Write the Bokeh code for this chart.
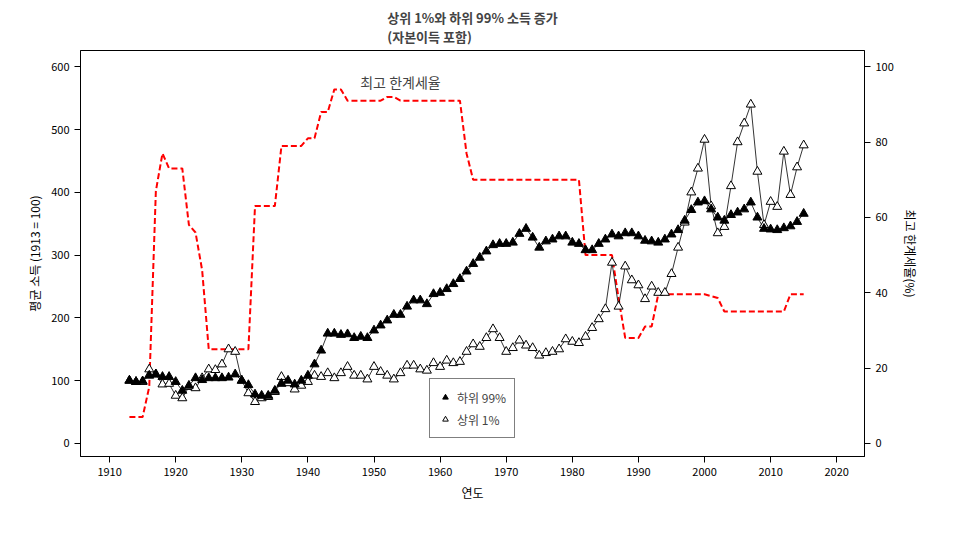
from bokeh.plotting import figure
from bokeh.models import Range1d, LinearAxis, Legend, LegendItem, FixedTicker, Label
from bokeh.embed import file_html
from bokeh.resources import INLINE

years = list(range(1913, 2016))

bottom99 = [100, 98, 99, 108, 110, 106, 106, 98, 84, 92, 104, 101, 104, 104, 104, 105, 110, 100, 93, 78,
            76, 76, 84, 95, 100, 94, 100, 108, 126, 148, 175, 175, 173, 174, 168, 170, 168, 180, 188, 196,
            205, 205, 218, 228, 228, 222, 238, 240, 246, 254, 262, 274, 286, 296, 306, 316, 318, 318, 320, 334,
            342, 328, 312, 322, 325, 330, 330, 320, 318, 308, 308, 318, 325, 333, 330, 335, 335, 330, 323, 322,
            320, 325, 333, 340, 355, 372, 384, 386, 373, 360, 355, 364, 368, 373, 384, 360, 342, 341, 340, 343,
            346, 353, 366]

top1 = [100, 98, 98, 118, 110, 94, 95, 76, 72, 90, 88, 104, 118, 117, 126, 150, 146, 100, 80, 66,
        72, 74, 82, 106, 96, 86, 92, 98, 108, 106, 112, 104, 112, 122, 108, 108, 102, 122, 114, 108,
        102, 112, 124, 124, 118, 116, 128, 122, 132, 128, 130, 146, 158, 154, 168, 182, 168, 146, 152, 164,
        156, 152, 140, 144, 146, 150, 166, 162, 160, 170, 184, 198, 214, 288, 218, 282, 260, 252, 230, 250,
        240, 240, 270, 312, 352, 400, 438, 484, 378, 335, 345, 410, 480, 510, 540, 433, 348, 385, 377, 465,
        396, 440, 475]

top_rate = [7, 7, 7, 15, 67, 77, 73, 73, 73, 58, 56, 46, 25, 25, 25, 25, 25, 25, 25, 63,
            63, 63, 63, 79, 79, 79, 79, 81, 81, 88, 88, 94, 94, 91, 91, 91, 91, 91, 91, 92,
            92, 91, 91, 91, 91, 91, 91, 91, 91, 91, 91, 77, 70, 70, 70, 70, 70, 70, 70, 70,
            70, 70, 70, 70, 70, 70, 70, 70, 70, 50, 50, 50, 50, 50, 38.5, 28, 28, 28, 31, 31,
            39.6, 39.6, 39.6, 39.6, 39.6, 39.6, 39.6, 39.6, 39.1, 38.6, 35, 35, 35, 35, 35, 35, 35, 35, 35, 35,
            39.6, 39.6, 39.6]

FONT = "Noto Sans CJK KR"

p = figure(frame_width=784, frame_height=406, output_backend="svg", toolbar_location=None,
           x_range=Range1d(1905.6, 2024.2), y_range=Range1d(-21, 626),
           min_border_left=80, min_border_right=72, min_border_top=50, min_border_bottom=60)
p.title.text = "상위 1%와 하위 99% 소득 증가\n(자본이득 포함)"
p.title.align = "center"
p.title.text_font = FONT
p.title.text_font_size = "13px"
p.xgrid.visible = False
p.ygrid.visible = False
p.outline_line_color = "black"

p.extra_y_ranges = {"rate": Range1d(-3.5, 104.33)}
p.add_layout(LinearAxis(y_range_name="rate", axis_label="최고 한계세율(%)",
                        ticker=FixedTicker(ticks=[0, 20, 40, 60, 80, 100])), "right")

p.xaxis.ticker = FixedTicker(ticks=list(range(1910, 2030, 10)))
p.yaxis[0].ticker = FixedTicker(ticks=[0, 100, 200, 300, 400, 500, 600])
p.xaxis.axis_label = "연도"
p.yaxis[0].axis_label = "평균 소득 (1913 = 100)"
for ax in p.axis:
    ax.axis_label_text_font = FONT
    ax.axis_label_text_font_style = "normal"
    ax.axis_label_text_font_size = "12px"
    ax.axis_label_text_color = "black"
    ax.major_label_text_font = FONT
    ax.major_label_text_font_size = "11px"
    ax.major_label_text_color = "black"
    ax.minor_tick_line_color = None
    ax.major_tick_in = 0
    ax.major_tick_out = 6
    ax.axis_line_color = "black"
p.yaxis[1].axis_label_orientation = "vertical"

rate6 = [r * 6 for r in top_rate]
p.line(years, rate6, color="red", line_width=2, line_dash="6 3")

p.line(years, top1, color="black", line_width=0.8)
p.line(years, bottom99, color="black", line_width=0.8)
r_top = p.scatter(years, top1, marker="triangle", size=9, fill_color="white", line_color="black")
r_bot = p.scatter(years, bottom99, marker="triangle", size=9, fill_color="black", line_color="black")

p.add_layout(Label(x=1954, y=560, text="최고 한계세율", text_font=FONT, text_font_size="14px",
                   text_align="center"))

leg = Legend(items=[LegendItem(label="하위 99%", renderers=[r_bot]),
                    LegendItem(label="상위 1%", renderers=[r_top])],
             location=(349, 18), border_line_color="black", label_text_font=FONT,
             label_text_font_size="12px", glyph_width=14, padding=8, spacing=2)
p.add_layout(leg, "center")

open("out.html", "w").write(file_html(p, INLINE))
